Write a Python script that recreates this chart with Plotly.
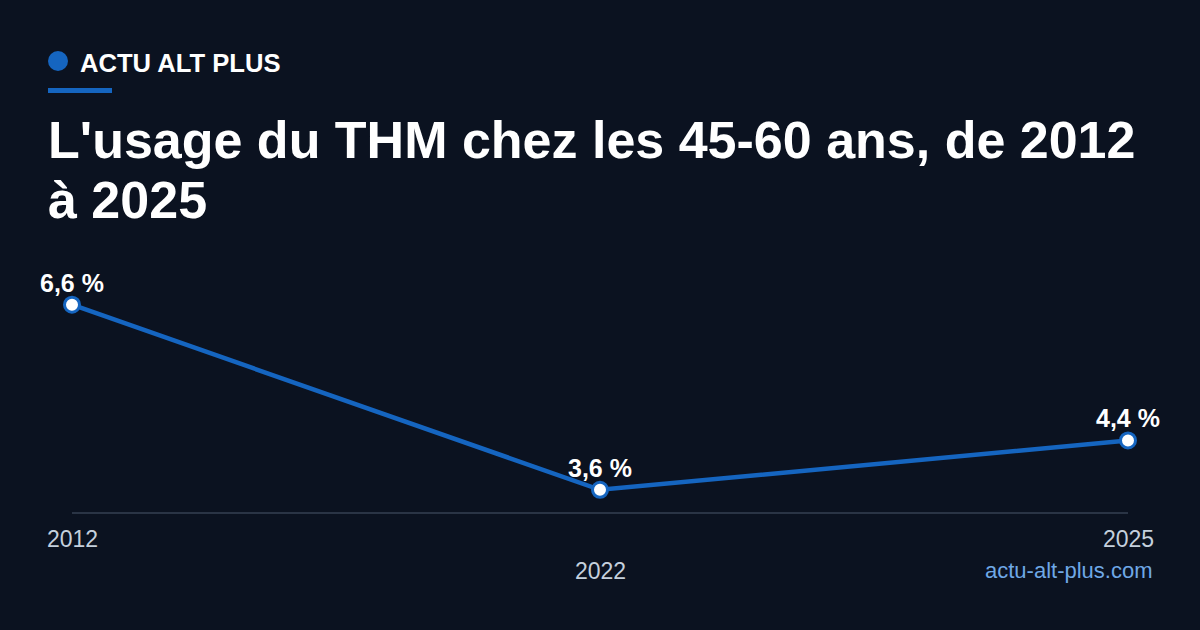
import plotly.graph_objects as go

years = ["2012", "2022", "2025"]
values = [6.6, 3.6, 4.4]
value_labels = ["6,6 %", "3,6 %", "4,4 %"]
tick_offsets = [0, 1, 0]  # staggered tick label rows

BG = "#0b1220"
BLUE = "#1565c0"
FONT = "Liberation Sans, Arial, sans-serif"

fig = go.Figure()
fig.add_trace(go.Scatter(
    x=years, y=values, mode="lines+markers",
    line=dict(color=BLUE, width=4.5),
    marker=dict(size=15, color="white", line=dict(color=BLUE, width=3)),
    cliponaxis=False, hoverinfo="skip",
))

for i, (v, lab) in enumerate(zip(values, value_labels)):
    fig.add_annotation(x=i, xref="x", y=v, yref="y", yanchor="middle",
                       yshift=22, text="<b>" + lab + "</b>", showarrow=False,
                       font=dict(family=FONT, size=25, color="white"))

for i, (yr, off) in enumerate(zip(years, tick_offsets)):
    fig.add_annotation(x=i, xref="x", y=0, yref="paper", yanchor="top",
                       yshift=-12 - 32 * off, text=yr, showarrow=False,
                       font=dict(family=FONT, size=23, color="#c5d0dd"))

fig.update_layout(
    width=1200, height=630,
    paper_bgcolor=BG, plot_bgcolor=BG,
    margin=dict(l=72, r=72, t=264, b=118),
    showlegend=False,
    xaxis=dict(type="category", range=[0, 2], showgrid=False, zeroline=False,
               showticklabels=False, showline=True, linecolor="#2a3445", linewidth=2,
               fixedrange=True),
    yaxis=dict(range=[3.24, 7.26], visible=False, fixedrange=True),
    font=dict(family=FONT),
)

L, R, T, B = 72, 1128, 264, 512
def pxp(x): return (x - L) / (R - L)
def pyp(y): return (B - y) / (B - T)

fig.add_shape(type="circle", xref="paper", yref="paper",
              x0=pxp(48), x1=pxp(68), y0=pyp(71), y1=pyp(51),
              line_width=0, fillcolor=BLUE)
fig.add_shape(type="rect", xref="paper", yref="paper",
              x0=pxp(48), x1=pxp(112), y0=pyp(93), y1=pyp(88),
              line_width=0, fillcolor=BLUE)
fig.add_annotation(xref="paper", yref="paper", x=pxp(78), y=pyp(63), xanchor="left", yanchor="middle",
                   text="<b>ACTU ALT PLUS</b>", showarrow=False,
                   font=dict(family=FONT, size=25.6, color="white"))
fig.add_annotation(xref="paper", yref="paper", x=pxp(46), y=pyp(140), xanchor="left", yanchor="middle",
                   text="<b>L'usage du THM chez les 45-60 ans, de 2012</b>", showarrow=False,
                   font=dict(family=FONT, size=52, color="white"))
fig.add_annotation(xref="paper", yref="paper", x=pxp(46), y=pyp(200), xanchor="left", yanchor="middle",
                   text="<b>à 2025</b>", showarrow=False,
                   font=dict(family=FONT, size=52, color="white"))
fig.add_annotation(xref="paper", yref="paper", x=pxp(1155), y=pyp(570), xanchor="right", yanchor="middle",
                   text="actu-alt-plus.com", showarrow=False,
                   font=dict(family=FONT, size=22, color="#6fa8e6"))

fig.write_html("out.html", config={"displayModeBar": False},
               post_script="document.body.style.margin='0';document.body.style.background='" + BG + "';")
